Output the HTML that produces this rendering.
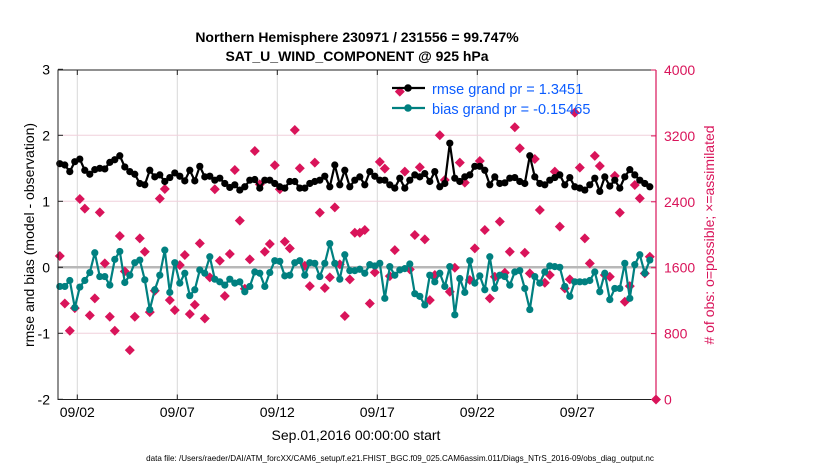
<!DOCTYPE html>
<html><head><meta charset="utf-8">
<style>
body{margin:0;background:#fff;}
svg text{font-family:"Liberation Sans",sans-serif;}
</style></head>
<body>
<svg id="chart" width="830" height="470" viewBox="0 0 830 470" xmlns="http://www.w3.org/2000/svg">
<rect width="830" height="470" fill="#fff"/>
<text x="357" y="42" text-anchor="middle" font-size="14" font-weight="bold">Northern Hemisphere 230971 / 231556 = 99.747%</text>
<text x="357" y="61" text-anchor="middle" font-size="14" font-weight="bold">SAT_U_WIND_COMPONENT @ 925 hPa</text>
<g id="grid"></g>
<g id="series"></g>
<g id="axes"></g>
<text transform="translate(34,235) rotate(-90)" text-anchor="middle" font-size="14">rmse and bias (model - observation)</text>
<text transform="translate(714,235) rotate(-90)" text-anchor="middle" font-size="14" fill="#d9145a"># of obs: o=possible; ×=assimilated</text>
<text x="356" y="440" text-anchor="middle" font-size="14">Sep.01,2016 00:00:00 start</text>
<text x="400" y="461" text-anchor="middle" font-size="8.1">data file: /Users/raeder/DAI/ATM_forcXX/CAM6_setup/f.e21.FHIST_BGC.f09_025.CAM6assim.011/Diags_NTrS_2016-09/obs_diag_output.nc</text>
<g id="legend">
<line x1="392" y1="88" x2="425" y2="88" stroke="#000" stroke-width="2.2"/>
<circle cx="408" cy="88" r="3.8" fill="#000"/>
<text x="432" y="94" font-size="14.5" fill="#0b5cff">rmse grand pr = 1.3451</text>
<line x1="392" y1="108" x2="425" y2="108" stroke="#008080" stroke-width="2.2"/>
<circle cx="408" cy="108" r="3.8" fill="#008080"/>
<text x="432" y="114" font-size="14.5" fill="#0b5cff">bias grand pr = -0.15465</text>
</g>
</svg>
<script>
const xTickLabels = ["09/02","09/07","09/12","09/17","09/22","09/27"];
const xTickDays = [1,6,11,16,21,26];
const yLeftTicks = [-2,-1,0,1,2,3];
const yRightTicks = [0,800,1600,2400,3200,4000];
const rmse = [1.57,1.55,1.45,1.60,1.64,1.47,1.41,1.48,1.50,1.49,1.59,1.63,1.69,1.52,1.45,1.41,1.27,1.25,1.47,1.37,1.40,1.30,1.36,1.43,1.38,1.31,1.47,1.31,
1.53,1.37,1.38,1.32,1.35,1.27,1.21,1.25,1.17,1.22,1.32,1.33,1.20,1.32,1.32,1.27,1.22,1.20,1.30,1.30,1.20,1.20,1.27,1.30,1.32,1.38,1.22,1.55,1.25,1.47,1.22,1.32,
1.37,1.25,1.45,1.38,1.32,1.32,1.25,1.20,1.35,1.20,1.32,1.40,1.37,1.42,1.30,1.45,1.22,1.27,1.88,1.35,1.30,1.37,1.40,1.53,1.53,1.47,1.25,1.37,
1.27,1.28,1.35,1.36,1.30,1.27,1.69,1.37,1.27,1.25,1.32,1.36,1.40,1.25,1.36,1.22,1.20,1.17,1.25,1.35,1.15,1.37,1.23,1.32,1.20,1.37,1.48,1.40,1.32,1.27,1.22];
const bias = [-0.29,-0.29,-0.20,-0.61,-0.30,-0.20,-0.08,0.22,-0.14,-0.14,-0.27,0.12,0.24,-0.23,-0.12,0.07,0.11,-0.19,-0.64,-0.34,-0.12,0.26,-0.38,0.07,-0.24,-0.09,-0.43,-0.34,
-0.04,-0.09,0.16,-0.18,-0.22,-0.27,-0.18,-0.24,-0.22,-0.37,-0.29,-0.07,-0.09,-0.29,-0.08,0.10,0.09,-0.13,-0.12,0.07,0.10,-0.12,0.07,0.06,-0.14,0.06,0.36,0.06,-0.18,0.19,-0.05,-0.05,
-0.03,-0.09,0.04,0.02,0.06,-0.47,0.01,-0.12,-0.04,-0.02,0.05,-0.40,-0.44,-0.57,-0.12,-0.22,-0.09,-0.29,0.01,-0.72,-0.17,-0.38,0.10,-0.24,-0.13,-0.34,0.16,-0.32,
-0.12,-0.14,-0.27,-0.07,-0.05,-0.32,-0.64,-0.14,-0.24,-0.07,0.02,0.01,0.00,-0.29,-0.44,-0.22,-0.22,-0.22,-0.20,-0.07,-0.37,-0.09,-0.49,-0.32,-0.32,0.06,-0.47,0.04,0.19,-0.09,0.11];
const obsCount = [1742,1166,834,1110,2434,2317,1021,1227,2272,1652,1004,834,1985,1555,599,1004,1956,1794,1061,1320,2438,2556,1207,1085,1632,1754,1037,1150,
1895,984,1482,2552,1685,1256,1766,2786,2171,1345,1701,3017,2612,1794,1887,2843,2552,1916,1835,3272,2807,1624,1377,2876,2268,1353,1482,2333,1640,1013,1458,2025,
2025,2057,1166,1543,2884,2803,1498,1814,3738,2767,1580,1997,2819,1944,1207,1511,3208,2665,1308,1600,2876,2633,1450,1835,2896,2057,1227,1490,
2159,1539,1794,3305,3050,1782,1531,2920,2300,1418,1511,2766,2098,1349,1458,3483,2815,1956,1652,2957,2835,1511,1490,2714,2268,1187,1377,2604,2442,1531,1733,0];

const L=58,R=656,T=70,B=399.5;
const xDay = d => 57.3 + 20*d;
const xIdx = i => xDay(0.125 + 0.25*i);
const yL = v => 267.3 - 66*v;
const yR = v => B - (B-T)*v/4000;
const NS="http://www.w3.org/2000/svg";
function mk(tag, attrs, parent){const e=document.createElementNS(NS,tag);for(const k in attrs)e.setAttribute(k,attrs[k]);parent.appendChild(e);return e;}
const grid=document.getElementById('grid'), ser=document.getElementById('series'), ax=document.getElementById('axes');

xTickDays.forEach((d,k)=>{
  const g=mk('line',{x1:xDay(d),x2:xDay(d),y1:T,y2:B,stroke:'#d8d8d8','stroke-width':1},grid);
  
  
});
yLeftTicks.forEach(v=>{
  if(v===0||v===3||v===-2) return;
  const g=mk('line',{x1:L,x2:R,y1:yL(v),y2:yL(v),stroke:'#f0d0dc','stroke-width':1},grid);
  
  
});
const zl=mk('line',{x1:L,x2:R,y1:yL(0),y2:yL(0),stroke:'#b8b8b8','stroke-width':2.5},grid);



obsCount.forEach((v,i)=>{
  const x=i===obsCount.length-1 && v===0 ? R : xIdx(i), y=yR(v), s=5;
  const d=mk('polygon',{points:`${x},${y-s} ${x+s},${y} ${x},${y+s} ${x-s},${y}`,fill:'#d9145a'},ser);
  
  
});
function drawLine(arr,color,name){
  const pts=arr.map((v,i)=>xIdx(i)+','+yL(v)).join(' ');
  const p=mk('polyline',{points:pts,fill:'none',stroke:color,'stroke-width':2.2,'stroke-linejoin':'round'},ser);
  
  
  arr.forEach((v,i)=>{
    const c=mk('circle',{cx:xIdx(i),cy:yL(v),r:3.6,fill:color},ser);
    
    
  });
}
drawLine(rmse,'#000','rmse');
drawLine(bias,'#008080','bias');

const fr=mk('path',{d:`M${R},${T} L${L},${T} L${L},${B} L${R},${B}`,fill:'none',stroke:'#222','stroke-width':1},ax);


const ra=mk('line',{x1:R,x2:R,y1:T,y2:B,stroke:'#d9145a','stroke-width':1.2},ax);


yLeftTicks.forEach(v=>{
  mk('line',{x1:L,x2:L+5,y1:yL(v),y2:yL(v),stroke:'#222'},ax);
  const t=mk('text',{x:L-8,y:yL(v)+5,'text-anchor':'end','font-size':14},ax);
  t.textContent=v;
  
  
});
yRightTicks.forEach(v=>{
  mk('line',{x1:R-5,x2:R,y1:yR(v),y2:yR(v),stroke:'#d9145a'},ax);
  const t=mk('text',{x:R+8,y:yR(v)+5,'font-size':14,fill:'#d9145a'},ax);
  t.textContent=v;
  
  
});
xTickDays.forEach((d,k)=>{
  mk('line',{x1:xDay(d),x2:xDay(d),y1:B,y2:B-5,stroke:'#222'},ax);
  mk('line',{x1:xDay(d),x2:xDay(d),y1:T,y2:T+5,stroke:'#222'},ax);
  const t=mk('text',{x:xDay(d),y:417,'text-anchor':'middle','font-size':14},ax);
  t.textContent=xTickLabels[k];
  
  
});
</script>
</body></html>
